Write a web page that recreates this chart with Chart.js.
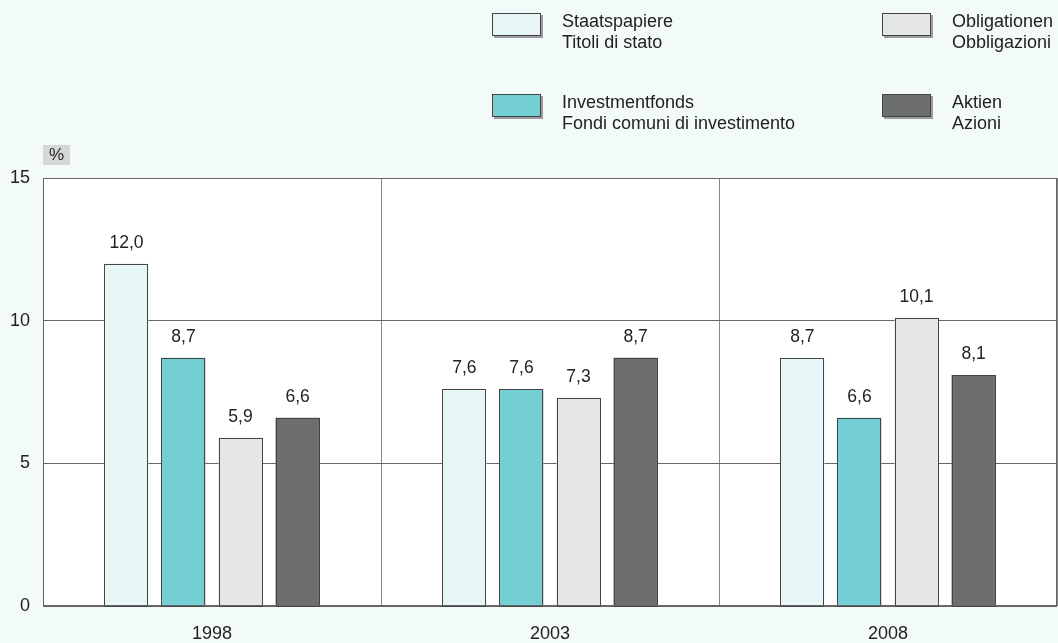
<!DOCTYPE html>
<html lang="de">
<head>
    <meta charset="UTF-8">
    <title>Staatspapiere, Investmentfonds, Obligationen, Aktien</title>
    <style>
        body {
            margin: 0;
            padding: 0;
            background: #f3fafa;
        }
        #wrap {
            position: relative;
            width: 1058px;
            height: 643px;
        }
    </style>
</head>
<body>
<div id="wrap">
    <canvas id="myChart" width="1058" height="643"></canvas>
</div>

<script src="https://cdn.jsdelivr.net/npm/chart.js"></script>
<script>
    // Jahre und Werte (%)
    const years = ['1998', '2003', '2008'];
    const staatspapiere = [12.0, 7.6, 8.7];
    const investmentfonds = [8.7, 7.6, 6.6];
    const obligationen = [5.9, 7.3, 10.1];
    const aktien = [6.6, 8.7, 8.1];
    const yTicks = [0, 5, 10, 15];

    const seriesLabels = [
        ['Staatspapiere', 'Titoli di stato'],
        ['Investmentfonds', 'Fondi comuni di investimento'],
        ['Obligationen', 'Obbligazioni'],
        ['Aktien', 'Azioni']
    ];
    const seriesColors = ['#e6f5f5', '#74cfd5', '#e5e6e8', '#6d6e70'];
    const FONT = '"Liberation Sans", Arial, sans-serif';
    const TEXT = '#222';

    function fmt(v) {
        return v.toFixed(1).replace('.', ',');
    }

    // weiße Zeichenfläche
    const plotBg = {
        id: 'plotBg',
        beforeDraw(chart) {
            const a = chart.chartArea;
            chart.ctx.save();
            chart.ctx.fillStyle = '#ffffff';
            chart.ctx.fillRect(a.left, a.top, a.right - a.left, a.bottom - a.top);
            chart.ctx.restore();
        }
    };

    // Rahmen, Legende, "%"-Kasten und Wertbeschriftungen
    const decorPlugin = {
        id: 'decor',
        afterDatasetsDraw(chart) {
            const ctx = chart.ctx;
            const area = chart.chartArea;
            ctx.save();

            // scharfe Balkenränder
            ctx.strokeStyle = '#444';
            ctx.lineWidth = 1;
            chart.data.datasets.forEach((ds, i) => {
                chart.getDatasetMeta(i).data.forEach(bar => {
                    const l = Math.round(bar.x - bar.width / 2);
                    const r = Math.round(bar.x + bar.width / 2);
                    const t = Math.round(bar.y);
                    const b = Math.round(bar.base);
                    ctx.strokeRect(l + 0.5, t + 0.5, r - l - 1, b - t);
                });
            });

            // Werte über den Balken
            ctx.font = '17.5px ' + FONT;
            ctx.fillStyle = TEXT;
            ctx.textAlign = 'center';
            ctx.textBaseline = 'alphabetic';
            chart.data.datasets.forEach((ds, i) => {
                chart.getDatasetMeta(i).data.forEach((bar, j) => {
                    ctx.fillText(fmt(ds.data[j]), bar.x, bar.y - 16);
                });
            });

            // Rahmen
            ctx.strokeStyle = '#666';
            ctx.strokeRect(area.left + 0.5, area.top + 0.5, area.right - area.left - 1, area.bottom - area.top - 1);

            // "%"-Kasten
            ctx.fillStyle = '#d6d7d8';
            ctx.fillRect(43, 145, 27, 20);
            ctx.fillStyle = TEXT;
            ctx.font = '17px ' + FONT;
            ctx.textAlign = 'center';
            ctx.textBaseline = 'middle';
            ctx.fillText('%', 56.5, 155.5);

            // Legende: links Staatspapiere / Investmentfonds, rechts Obligationen / Aktien
            const boxX = [492, 492, 882, 882];
            const boxY = [13, 94, 13, 94];
            ctx.font = '18px ' + FONT;
            ctx.textAlign = 'left';
            ctx.textBaseline = 'alphabetic';
            seriesLabels.forEach((lines, i) => {
                const x = boxX[i], y = boxY[i];
                ctx.fillStyle = '#9a9c9e';
                ctx.fillRect(x + 2, y + 2, 49, 23);
                ctx.fillStyle = seriesColors[i];
                ctx.fillRect(x, y, 49, 23);
                ctx.strokeStyle = '#444';
                ctx.strokeRect(x + 0.5, y + 0.5, 48, 22);
                ctx.fillStyle = TEXT;
                lines.forEach((t, k) => {
                    ctx.fillText(t, x + 70, y + 14 + k * 21);
                });
            });
            ctx.restore();
        }
    };

    const ctx = document.getElementById('myChart').getContext('2d');
    const chart = new Chart(ctx, {
        type: 'bar',
        data: {
            labels: years,
            datasets: [staatspapiere, investmentfonds, obligationen, aktien].map((d, i) => ({
                label: seriesLabels[i][0],
                data: d,
                backgroundColor: seriesColors[i],
                borderWidth: 0,
                categoryPercentage: 0.675,
                barPercentage: 0.772
            }))
        },
        options: {
            responsive: false,
            animation: false,
            layout: {
                padding: { top: 178, right: 1, left: 0, bottom: 0 }
            },
            plugins: {
                legend: { display: false },
                tooltip: { enabled: false }
            },
            scales: {
                x: {
                    grid: {
                        offset: true,
                        color: '#888',
                        drawTicks: false
                    },
                    border: { display: false },
                    ticks: {
                        color: TEXT,
                        font: { family: FONT, size: 18 },
                        padding: 17
                    },
                    afterFit(scale) { scale.height = 37; }
                },
                y: {
                    min: 0,
                    max: 15,
                    afterBuildTicks(scale) {
                        scale.ticks = yTicks.map(v => ({ value: v }));
                    },
                    grid: {
                        color: '#666',
                        drawTicks: false
                    },
                    border: { display: false },
                    ticks: {
                        color: TEXT,
                        font: { family: FONT, size: 18 },
                        padding: 13
                    },
                    afterFit(scale) { scale.width = 43; }
                }
            }
        },
        plugins: [plotBg, decorPlugin]
    });
</script>
</body>
</html>
